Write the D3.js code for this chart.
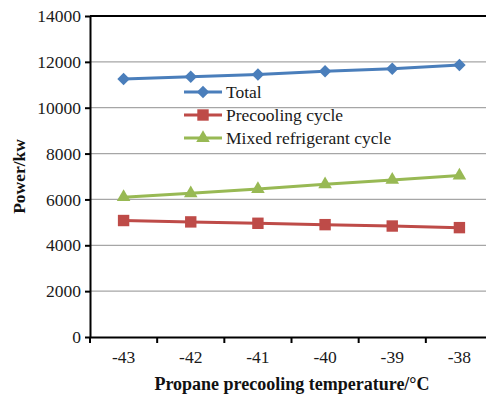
<!DOCTYPE html>
<html>
<head>
<meta charset="utf-8">
<script src="https://cdn.jsdelivr.net/npm/d3@7"></script>
<style>
  body { margin: 0; background: #fff; }
  svg text { font-family: "Liberation Serif", "Times New Roman", serif !important; }
</style>
</head>
<body>
<svg id="chart"></svg>
<script>
var width = 486;
var height = 394;
var margin = { top: 16, right: -7, bottom: 57, left: 90 };

// data
var temps = ["-43", "-42", "-41", "-40", "-39", "-38"];
var total = [11250, 11350, 11450, 11590, 11700, 11860];
var precooling = [5080, 5020, 4960, 4900, 4840, 4770];
var mixed = [6100, 6270, 6450, 6660, 6850, 7040];
var yTicks = [0, 2000, 4000, 6000, 8000, 10000, 12000, 14000];

var series = [
  { name: "Total", values: total, color: "#4a7ebb", shape: "diamond" },
  { name: "Precooling cycle", values: precooling, color: "#be4b48", shape: "square" },
  { name: "Mixed refrigerant cycle", values: mixed, color: "#98b954", shape: "triangle" }
];

var svg = d3.select("#chart")
  .attr("width", width)
  .attr("height", height);

var x = d3.scaleBand()
  .domain(temps)
  .range([margin.left, width - margin.right])
  .padding(0);

var y = d3.scaleLinear()
  .domain([0, 14000])
  .range([height - margin.bottom, margin.top]);

// grid lines
svg.append("g")
  .selectAll("line")
  .data(yTicks.filter(d => d > 0 && d < 14000))
  .enter()
  .append("line")
  .attr("x1", margin.left)
  .attr("x2", width)
  .attr("y1", d => y(d))
  .attr("y2", d => y(d))
  .attr("stroke", "#a6a6a6")
  .attr("stroke-width", 1.2);

// top border
svg.append("line")
  .attr("x1", margin.left)
  .attr("x2", width)
  .attr("y1", y(14000))
  .attr("y2", y(14000))
  .attr("stroke", "#000")
  .attr("stroke-width", 2);

// y axis
var yAxis = svg.append("g")
  .attr("transform", `translate(${margin.left},0)`)
  .call(d3.axisLeft(y).tickValues(yTicks).tickFormat(d3.format("d")).tickSize(5).tickSizeOuter(0).tickPadding(4));
yAxis.attr("font-family", null).attr("font-size", null);
yAxis.select(".domain").attr("stroke", "#000").attr("stroke-width", 2);
yAxis.selectAll(".tick line").attr("stroke", "#000").attr("stroke-width", 2);
yAxis.selectAll("text")
  .attr("fill", "#1a1a1a")
  .style("font-size", "17.5px");

// x axis, ticks sit between the categories
var xAxis = svg.append("g")
  .attr("transform", `translate(0,${height - margin.bottom})`)
  .call(d3.axisBottom(x).tickSize(0).tickSizeOuter(0).tickPadding(14));
xAxis.attr("font-family", null).attr("font-size", null);
xAxis.select(".domain").attr("stroke", "#000").attr("stroke-width", 2);
xAxis.selectAll("text")
  .attr("fill", "#1a1a1a")
  .style("font-size", "17.5px");

svg.append("g")
  .selectAll("line")
  .data(temps)
  .enter()
  .append("line")
  .attr("x1", d => x(d))
  .attr("x2", d => x(d))
  .attr("y1", y(0))
  .attr("y2", y(0) + 6)
  .attr("stroke", "#000")
  .attr("stroke-width", 2);

// axis titles
svg.append("text")
  .attr("transform", "translate(25," + (y(6000) - 23) + ") rotate(-90)")
  .attr("text-anchor", "middle")
  .style("font-size", "17.5px")
  .style("font-weight", "bold")
  .attr("fill", "#111")
  .text("Power/kw");

svg.append("text")
  .attr("x", 292)
  .attr("y", 390)
  .attr("text-anchor", "middle")
  .style("font-size", "18px")
  .style("font-weight", "bold")
  .attr("fill", "#111")
  .text("Propane precooling temperature/°C");

function marker(shape) {
  if (shape === "diamond") return d3.symbol().type(d3.symbolSquare).size(78)();
  if (shape === "square") return d3.symbol().type(d3.symbolSquare).size(130)();
  return d3.symbol().type(d3.symbolTriangle).size(80)();
}

var line = d3.line()
  .x((d, i) => x(temps[i]) + x.bandwidth() / 2)
  .y(d => y(d));

series.forEach(function(s) {
  svg.append("path")
    .datum(s.values)
    .attr("d", line)
    .attr("fill", "none")
    .attr("stroke", s.color)
    .attr("stroke-width", 3);

  svg.append("g")
    .selectAll("path")
    .data(s.values)
    .enter()
    .append("path")
    .attr("d", marker(s.shape))
    .attr("transform", (d, i) => "translate(" + (x(temps[i]) + x.bandwidth() / 2) + "," + y(d) + ")" + (s.shape === "diamond" ? " rotate(45)" : ""))
    .attr("fill", s.color);
});

// legend
var legend = svg.append("g")
  .selectAll("g")
  .data(series)
  .enter()
  .append("g")
  .attr("transform", (d, i) => "translate(184," + (92 + i * 23) + ")");

legend.append("line")
  .attr("x1", 0)
  .attr("x2", 38)
  .attr("stroke", d => d.color)
  .attr("stroke-width", 3);

legend.append("path")
  .attr("d", d => marker(d.shape))
  .attr("transform", d => "translate(19,0)" + (d.shape === "diamond" ? " rotate(45)" : ""))
  .attr("fill", d => d.color);

legend.append("text")
  .attr("x", 42)
  .attr("y", 6)
  .style("font-size", "17.5px")
  .attr("fill", "#1a1a1a")
  .text(d => d.name);
</script>
</body>
</html>
